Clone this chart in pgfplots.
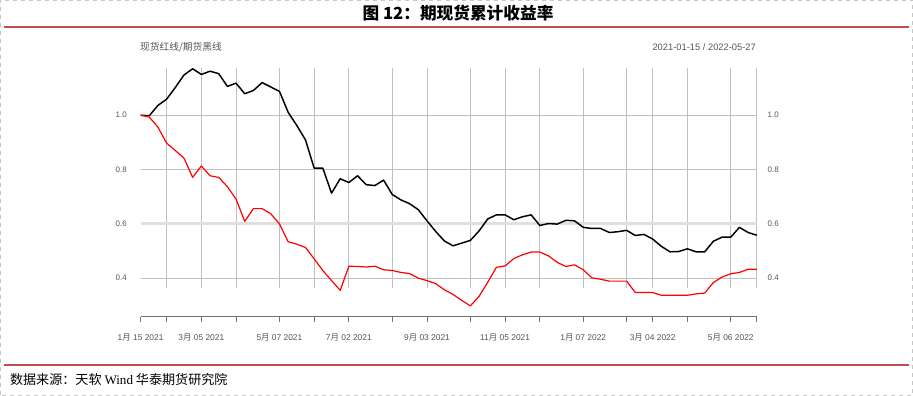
\documentclass[border=0pt]{standalone}
\usepackage{fontspec}
\setmainfont{Liberation Sans}
\newfontfamily\cjk{Noto Sans CJK SC}
\newfontfamily\serif{Liberation Serif}
\usepackage{pgfplots}
\usepackage{pgfplotstable}
\pgfplotsset{compat=1.18}
\definecolor{titlered}{RGB}{192,80,77}
\definecolor{gridc}{RGB}{192,192,192}
\definecolor{lbl}{RGB}{85,85,85}
\newcommand{\M}{{\cjk 月}}

\pgfplotstableread{
w fut
0 1.000
1 0.998
2 1.036
3 1.059
4 1.102
5 1.148
6 1.171
7 1.150
8 1.162
9 1.153
10 1.106
11 1.118
12 1.079
13 1.091
14 1.120
15 1.104
16 1.088
17 1.011
18 0.962
19 0.909
20 0.805
21 0.805
22 0.713
23 0.766
24 0.752
25 0.777
26 0.744
27 0.741
28 0.761
29 0.708
30 0.688
31 0.674
32 0.652
33 0.611
34 0.572
35 0.537
36 0.519
37 0.529
38 0.539
39 0.574
40 0.618
41 0.633
42 0.633
43 0.615
44 0.626
45 0.633
46 0.594
47 0.601
48 0.599
49 0.613
50 0.611
51 0.587
52 0.583
53 0.583
54 0.568
55 0.571
56 0.576
57 0.557
58 0.561
59 0.544
60 0.517
61 0.497
62 0.498
63 0.508
64 0.497
65 0.497
66 0.536
67 0.551
68 0.551
69 0.587
70 0.568
71 0.558
}\futures

\pgfplotstableread{
w spot
0 1.000
1 0.993
2 0.956
3 0.897
4 0.870
5 0.842
6 0.771
7 0.813
8 0.777
9 0.771
10 0.737
11 0.691
12 0.609
13 0.656
14 0.656
15 0.637
16 0.600
17 0.534
18 0.525
19 0.513
20 0.471
21 0.428
22 0.391
23 0.355
24 0.444
25 0.443
26 0.441
27 0.444
28 0.431
29 0.428
30 0.421
31 0.417
32 0.400
33 0.391
34 0.380
35 0.357
36 0.340
37 0.318
38 0.298
39 0.333
40 0.385
41 0.440
42 0.445
43 0.472
44 0.486
45 0.496
46 0.496
47 0.482
48 0.458
49 0.443
50 0.449
51 0.431
52 0.401
53 0.396
54 0.389
55 0.389
56 0.389
57 0.347
58 0.347
59 0.347
60 0.337
61 0.337
62 0.337
63 0.337
64 0.342
65 0.345
66 0.384
67 0.404
68 0.416
69 0.421
70 0.433
71 0.433
}\spot

\begin{document}
\begin{tikzpicture}[x=0.75pt,y=0.75pt]
\begin{scope}[shift={(-140.7,-79.3)}]
% outer dashed border
\draw[gray!45, dashed, line width=0.5pt] (0.5,0.5) rectangle (912.5,395.5);
% title
\node[anchor=center, inner sep=0pt] at (458,383) {\cjk\fontsize{12.5}{14}\selectfont\bfseries 图 12：期现货累计收益率};
\draw[titlered, line width=1.2pt] (4,369) -- (909,369);
% subtitle
\node[anchor=west, inner sep=0pt, text=lbl] at (140,349) {\cjk\fontsize{7.3}{9}\selectfont 现货红线/期货黑线};
\node[anchor=east, inner sep=0pt, text=lbl] at (756,349) {\fontsize{7}{9}\selectfont 2021-01-15 / 2022-05-27};
% footer
\draw[titlered, line width=1.0pt] (4,31) -- (909,31);
\node[anchor=west, inner sep=0pt] at (10,16) {\cjk\fontsize{9.8}{12}\selectfont 数据来源：天软 {\serif Wind} 华泰期货研究院};
\end{scope}

\begin{axis}[
  scale only axis, width=462pt, height=186.5pt,
  xmin=0, xmax=71, ymin=0.2582, ymax=1.1742,
  clip=false,
  axis x line=bottom, axis y line=left,
  x axis line style={-, draw=gray!90!black, line width=0.8pt},
  y axis line style={draw=none},
  xtick={0,3,7,11,16,20,24,29,33,38,42,46,51,56,59,63,68,71},
  xticklabels={{1\M\ 15 2021},,{3\M\ 05 2021},,{5\M\ 07 2021},,{7\M\ 02 2021},,{9\M\ 03 2021},,{11\M\ 05 2021},,{1\M\ 07 2022},,{3\M\ 04 2022},,{5\M\ 06 2022},},
  tick align=outside,
  major tick length=3.75pt,
  xtick style={draw=gray!90!black, line width=0.75pt},
  xticklabel style={font=\fontsize{6.3}{7}\selectfont, text=lbl, yshift=-6pt},
  ytick={0.4,0.6,0.8,1.0},
  yticklabel style={font=\fontsize{6}{7}\selectfont, text=lbl, xshift=-3pt,
    /pgf/number format/.cd, fixed, precision=1, fixed zerofill, assume math mode=true},
  ytick style={draw=none},
  ymajorgrids,
  major grid style={gridc, line width=0.75pt},
]
\pgfplotsinvokeforeach{3,7,11,16,20,24,29,33,38,42,46,51,56,59,63,68,71}{
  \draw[gridc, line width=0.75pt] (axis cs:#1,0.364) -- (axis cs:#1,1.1742);
}
\draw[gray!25, line width=2.2pt] (axis cs:0,0.6) -- (axis cs:71,0.6);
\addplot[black, line width=1.1pt, line join=round] table[x=w, y=fut] {\futures};
\addplot[red, line width=0.9pt, line join=round] table[x=w, y=spot] {\spot};
\node[anchor=west, inner sep=0pt, text=lbl, font=\fontsize{6}{7}\selectfont] at (axis cs:71,0.4) [xshift=8pt] {0.4};
\node[anchor=west, inner sep=0pt, text=lbl, font=\fontsize{6}{7}\selectfont] at (axis cs:71,0.6) [xshift=8pt] {0.6};
\node[anchor=west, inner sep=0pt, text=lbl, font=\fontsize{6}{7}\selectfont] at (axis cs:71,0.8) [xshift=8pt] {0.8};
\node[anchor=west, inner sep=0pt, text=lbl, font=\fontsize{6}{7}\selectfont] at (axis cs:71,1.0) [xshift=8pt] {1.0};
\end{axis}
\end{tikzpicture}
\end{document}
